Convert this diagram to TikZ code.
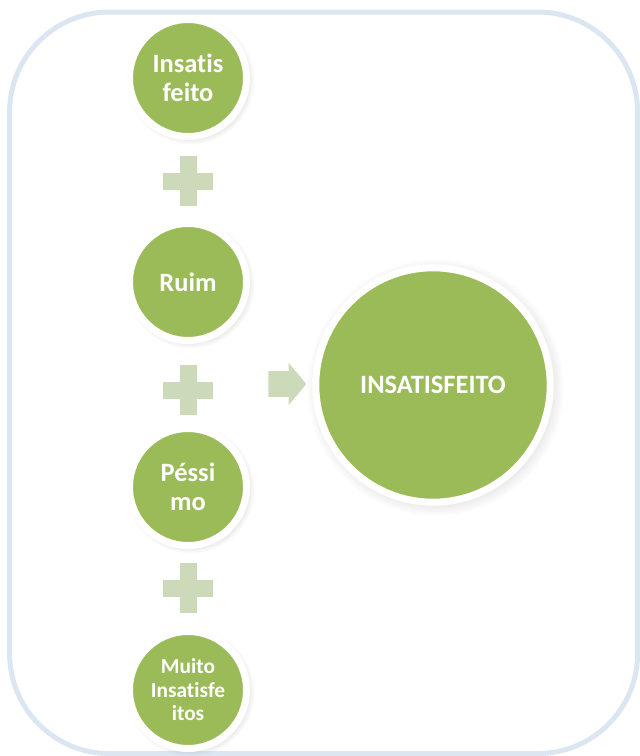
\documentclass[tikz,border=0pt]{standalone}
\usepackage{fontspec}
\setmainfont{Carlito}[Ligatures={NoCommon}]
\usetikzlibrary{shapes.arrows,shadows}
\definecolor{leafgreen}{RGB}{155,187,89}
\definecolor{palegreen}{RGB}{204,218,186}
\definecolor{frameblue}{RGB}{220,230,242}

\begin{document}
\begin{tikzpicture}[%
% common options for the circles:
ball/.style = {circle, draw=white, line width=0.175cm, fill=leafgreen,
            text=white, align=center, inner sep=0, minimum size=2.925cm,
            font=\bfseries\fontsize{18.8}{20.6}\selectfont,
            circular drop shadow={shadow scale=1.1, opacity=0.25}},
% common options for the bars of the plus signs:
bar/.style = {rectangle, fill=palegreen, inner sep=0},
% the arrow:
arrowbox/.style = {single arrow, fill=palegreen, inner sep=0.3125cm,
            minimum height=0.95cm, single arrow head extend=0.2125cm,
            single arrow tip angle=100}]
\useasboundingbox (0,0) rectangle (16,-18.9);
\draw[frameblue, line width=0.125cm, rounded corners=2.5cm] (0.24,-0.3) rectangle (15.94,-18.84);
\node[ball] (C1) at (4.7,-1.95) {Insatis\\feito};
\node[ball] (C2) at (4.7,-7.05) {Ruim};
\node[ball] (C3) at (4.7,-12.175) {Péssi\\mo};
\node[ball, font=\bfseries\fontsize{15.2}{16.7}\selectfont] (C4) at (4.7,-17.25) {Muito\\Insatisfe\\itos};
\node[bar, minimum width=1.25cm, minimum height=0.425cm] (P1h) at (4.7,-4.525) {};
\node[bar, minimum width=0.425cm, minimum height=1.25cm] (P1v) at (4.7,-4.525) {};
\node[bar, minimum width=1.25cm, minimum height=0.425cm] (P2h) at (4.7,-9.75) {};
\node[bar, minimum width=0.425cm, minimum height=1.25cm] (P2v) at (4.7,-9.75) {};
\node[bar, minimum width=1.25cm, minimum height=0.425cm] (P3h) at (4.7,-14.7) {};
\node[bar, minimum width=0.425cm, minimum height=1.25cm] (P3v) at (4.7,-14.7) {};
\node[arrowbox] (A) at (7.05,-9.6) {};
\node[ball, minimum size=5.86cm] (R) at (10.825,-9.625) {INSATISFEITO};
\end{tikzpicture}
\end{document}
